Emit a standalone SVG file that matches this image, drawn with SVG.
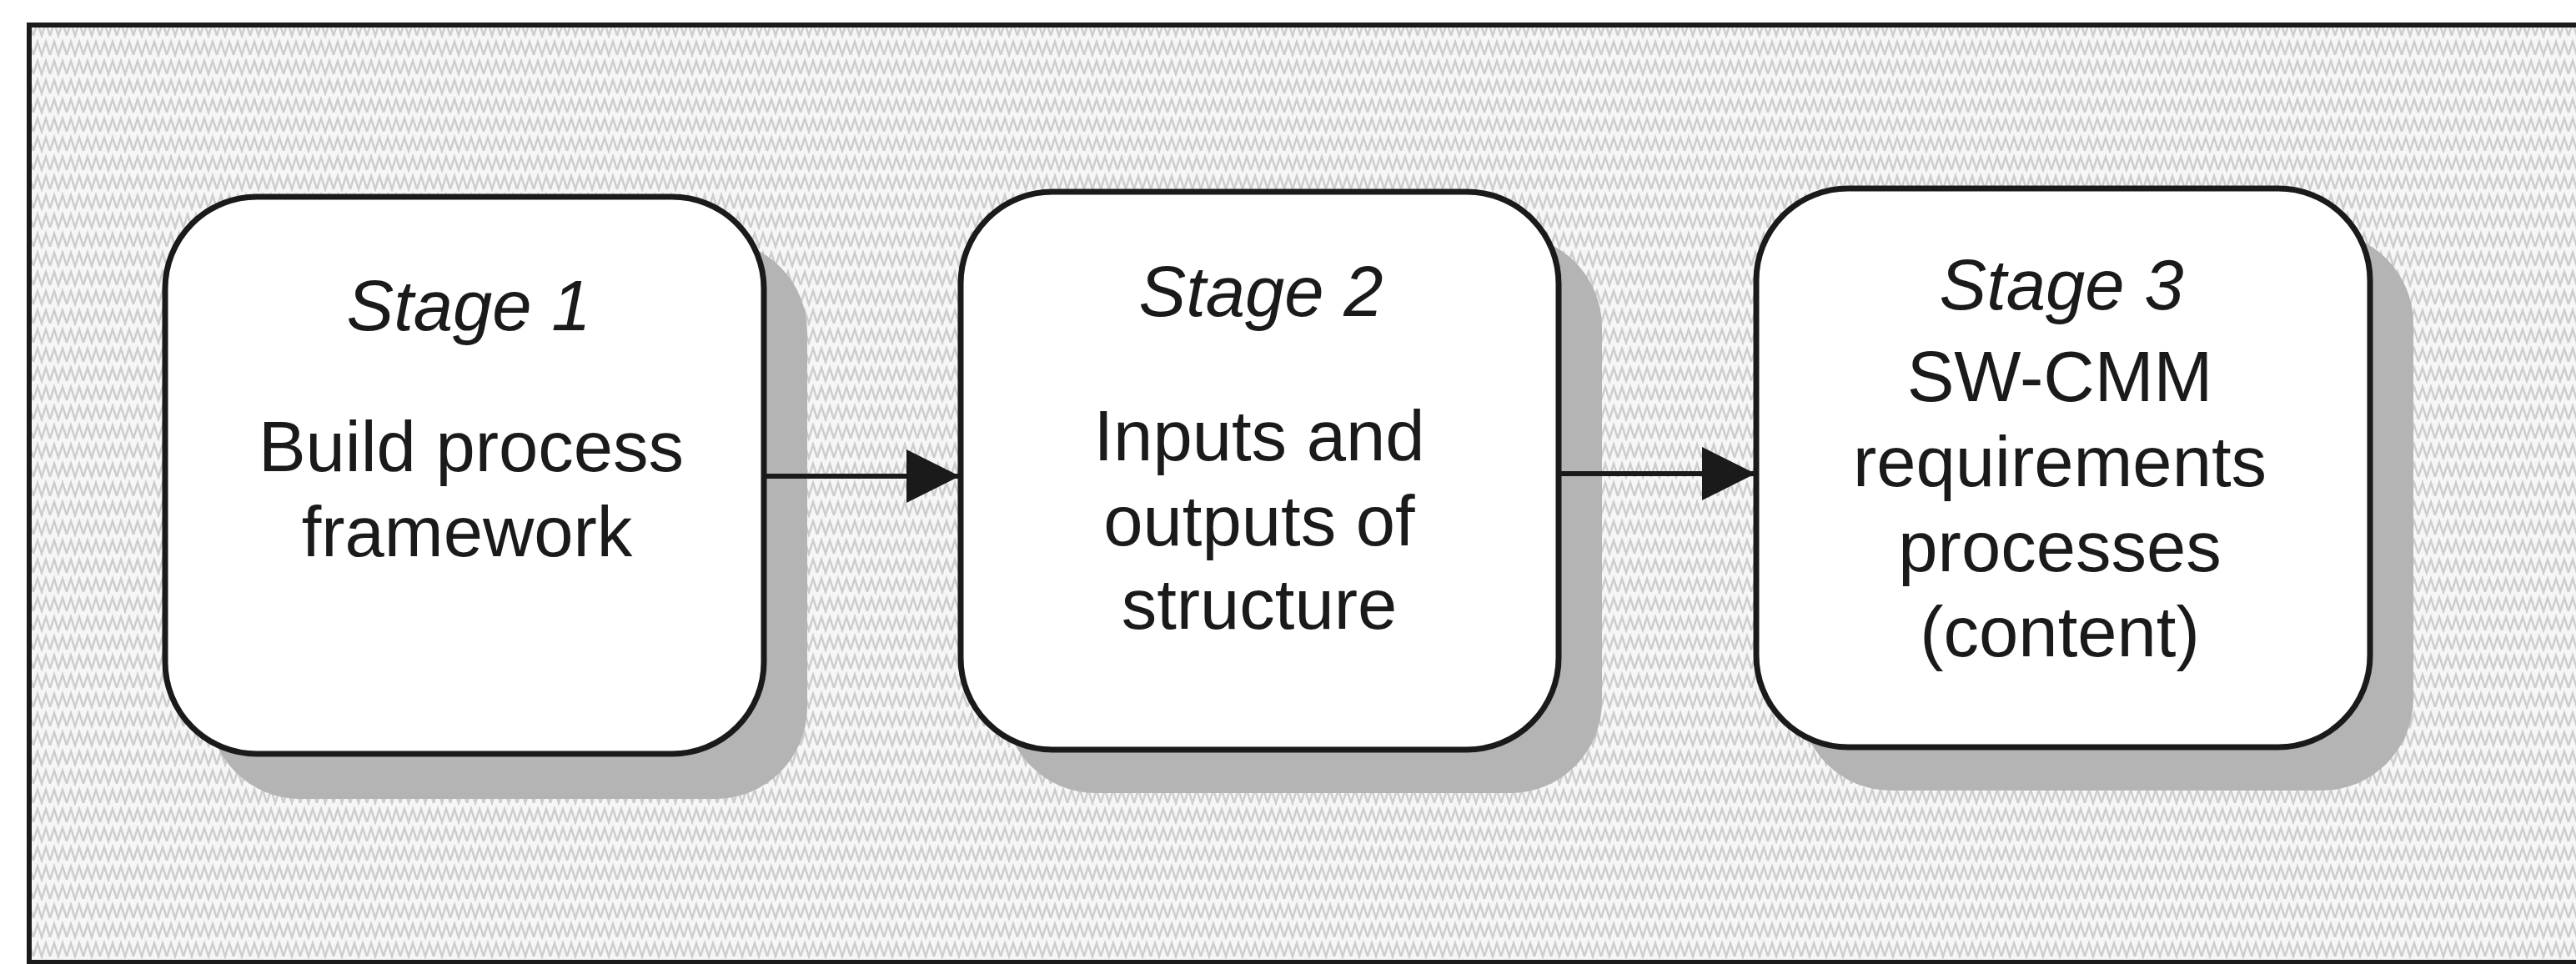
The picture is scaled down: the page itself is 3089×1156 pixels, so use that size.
<svg xmlns="http://www.w3.org/2000/svg" width="3089" height="1156" viewBox="0 0 3089 1156">
  <style>
    .frame { fill: url(#zig); stroke: #1a1a1a; stroke-width: 6; }
    .shadow { fill: #b4b4b4; }
    .box { fill: #ffffff; stroke: #1a1a1a; stroke-width: 7; }
    .conn { stroke: #1a1a1a; stroke-width: 6; fill: none; }
    text { font-family: "Liberation Sans", Arial, Helvetica, sans-serif; font-size: 85px; fill: #1a1a1a; text-anchor: middle; }
    .stage { font-style: italic; }
  </style>
  <defs>
    <pattern id="zig" patternUnits="userSpaceOnUse" width="20" height="23">
      <rect width="20" height="23" fill="#f6f6f6"/>
      <polyline points="0,20 5,4 10,20 15,4 20,20" fill="none" stroke="#cdcdcd" stroke-width="2.5"/>
    </pattern>
    <marker id="arrow" markerUnits="userSpaceOnUse" markerWidth="64" markerHeight="64" refX="63" refY="32" orient="auto">
      <path d="M0,0 L64,32 L0,64 Z" fill="#1a1a1a"/>
    </marker>
  </defs>

  <rect x="0" y="0" width="3089" height="1156" fill="#ffffff"/>
  <rect class="frame" x="35" y="30" width="3200" height="1124"/>

  <g id="stage1">
    <rect class="shadow" x="250" y="288" width="718" height="670" rx="110" ry="110"/>
    <rect class="box" x="198" y="236" width="718" height="668" rx="110" ry="110"/>
    <text class="stage" x="562" y="396">Stage 1</text>
    <text x="565" y="565">Build process</text>
    <text x="560" y="667">framework</text>
  </g>

  <g id="stage2">
    <rect class="shadow" x="1204" y="282" width="717" height="669" rx="110" ry="110"/>
    <rect class="box" x="1152" y="230" width="717" height="669" rx="110" ry="110"/>
    <text class="stage" x="1512" y="379">Stage 2</text>
    <text x="1510" y="552">Inputs and</text>
    <text x="1510" y="654">outputs of</text>
    <text x="1510" y="754">structure</text>
  </g>

  <g id="stage3">
    <rect class="shadow" x="2158" y="278" width="736" height="670" rx="110" ry="110"/>
    <rect class="box" x="2106" y="226" width="736" height="670" rx="110" ry="110"/>
    <text class="stage" x="2472" y="371">Stage 3</text>
    <text x="2470" y="481">SW-CMM</text>
    <text x="2470" y="583">requirements</text>
    <text x="2470" y="685">processes</text>
    <text x="2470" y="787">(content)</text>
  </g>

  <g id="connectors">
    <line class="conn" x1="919" y1="571" x2="1150" y2="571" marker-end="url(#arrow)"/>
    <line class="conn" x1="1872" y1="568" x2="2104" y2="568" marker-end="url(#arrow)"/>
  </g>
</svg>
